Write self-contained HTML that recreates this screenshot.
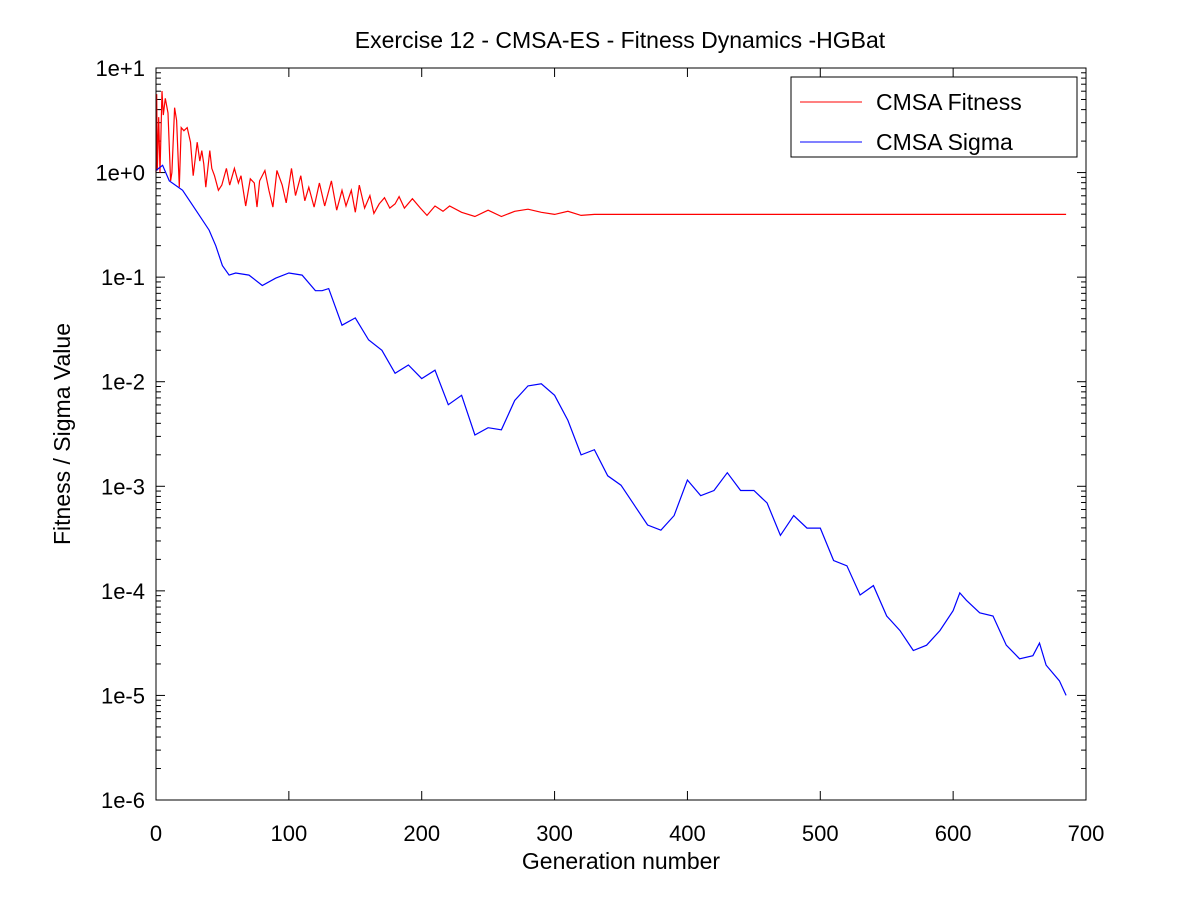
<!DOCTYPE html>
<html><head><meta charset="utf-8"><style>
html,body{margin:0;padding:0;background:#fff;}
svg{display:block;font-family:"Liberation Sans",sans-serif;}
</style></head><body>
<svg id="chart" width="1200" height="900" viewBox="0 0 1200 900" xmlns="http://www.w3.org/2000/svg">
<rect width="1200" height="900" fill="#fff"/>
<text x="620" y="48" font-size="23" text-anchor="middle">Exercise 12 - CMSA-ES - Fitness Dynamics -HGBat</text>
<text x="621" y="869" font-size="23" text-anchor="middle">Generation number</text>
<text transform="translate(70,434) rotate(-90)" font-size="23" text-anchor="middle">Fitness / Sigma Value</text>
<g id="axes"></g>
<g id="series"></g>
<rect x="156" y="68" width="930" height="732" fill="none" stroke="#000" stroke-width="1"/>
<g>
<rect x="791" y="77" width="286" height="80" fill="#fff" stroke="#000" stroke-width="1"/>
<line x1="800" y1="102" x2="862" y2="102" stroke="#f00" stroke-width="1"/>
<text x="876" y="110" font-size="23">CMSA Fitness</text>
<line x1="800" y1="142" x2="862" y2="142" stroke="#00f" stroke-width="1"/>
<text x="876" y="150" font-size="23">CMSA Sigma</text>
</g>
</svg>
<script>
const xTicks=[0,100,200,300,400,500,600,700];
const yTickExps=[1,0,-1,-2,-3,-4,-5,-6];
const yTickLabels=["1e+1","1e+0","1e-1","1e-2","1e-3","1e-4","1e-5","1e-6"];
const sigmaGen=[0,5,10,20,30,40,45,50,55,60,70,80,90,100,110,120,125,130,140,150,160,170,180,190,200,210,220,230,240,250,260,270,280,290,300,310,320,330,340,350,360,370,380,390,400,410,420,430,440,450,460,470,480,490,500,510,520,530,540,550,560,570,580,590,600,605,610,620,630,640,650,660,665,670,680,685];
const sigmaLog10=[0.02,0.07,-0.08,-0.17,-0.36,-0.55,-0.7,-0.89,-0.98,-0.96,-0.98,-1.08,-1.01,-0.96,-0.98,-1.13,-1.13,-1.11,-1.46,-1.39,-1.6,-1.7,-1.92,-1.84,-1.97,-1.89,-2.22,-2.13,-2.51,-2.44,-2.46,-2.18,-2.04,-2.02,-2.13,-2.37,-2.7,-2.65,-2.9,-2.99,-3.18,-3.37,-3.42,-3.28,-2.94,-3.09,-3.04,-2.87,-3.04,-3.04,-3.16,-3.47,-3.28,-3.4,-3.4,-3.71,-3.76,-4.04,-3.95,-4.24,-4.38,-4.57,-4.52,-4.38,-4.19,-4.02,-4.09,-4.21,-4.24,-4.52,-4.65,-4.62,-4.5,-4.71,-4.86,-5.0];
const fitGen=[0,0.5,1,2,3,4.5,5.5,7,9,11,12,14,15.5,17.5,19,21,23.5,26,28,31,33,34.5,36,37.5,40.5,42,44,47,49.5,53,55.5,59,62,64,67.5,71,74,76,78,82,85,88,91,95,98,102,105,109,112,115,119,123,127,132,136,140,143,147,150,153,157,161,164,168,172,176,180,183,187,193,199,204,210,216,221,230,240,250,260,270,280,290,300,310,320,330,360,400,450,500,550,600,650,685];
const fitLog10=[0,0.75,0.02,0.53,0,0.78,0.55,0.71,0.57,-0.08,0,0.62,0.5,-0.14,0.43,0.4,0.43,0.29,-0.03,0.29,0.11,0.21,0.08,-0.14,0.21,0.04,-0.03,-0.17,-0.12,0.04,-0.12,0.04,-0.1,-0.03,-0.32,-0.06,-0.1,-0.33,-0.08,0.02,-0.17,-0.33,0.02,-0.12,-0.29,0.04,-0.22,-0.03,-0.27,-0.14,-0.33,-0.1,-0.32,-0.08,-0.36,-0.17,-0.32,-0.17,-0.38,-0.12,-0.34,-0.22,-0.39,-0.3,-0.24,-0.34,-0.3,-0.23,-0.34,-0.25,-0.34,-0.41,-0.32,-0.37,-0.32,-0.38,-0.42,-0.36,-0.42,-0.37,-0.35,-0.38,-0.4,-0.37,-0.41,-0.4,-0.4,-0.4,-0.4,-0.4,-0.4,-0.4,-0.4,-0.4];
const X0=156,X1=1086,Y0=68,Y1=800;
function xs(g){return X0+(g/700)*(X1-X0);}
function ys(l){return Y0+(1-l)/7*(Y1-Y0);}
const NS="http://www.w3.org/2000/svg";
const axes=document.getElementById('axes');
function mk(t,a){const e=document.createElementNS(NS,t);for(const k in a)e.setAttribute(k,a[k]);return e;}
xTicks.forEach(v=>{
 const x=xs(v);
 const b=mk('line',{x1:x,y1:Y1,x2:x,y2:Y1-9,stroke:'#000'});
 
 
 axes.appendChild(b);
 const t=mk('line',{x1:x,y1:Y0,x2:x,y2:Y0+9,stroke:'#000'});
 
 
 axes.appendChild(t);
 const l=mk('text',{x:x,y:841,'font-size':22,'text-anchor':'middle'});
 l.textContent=v;
 
 
 axes.appendChild(l);
});
yTickExps.forEach((e,i)=>{
 const y=ys(e);
 [[X0,9],[X1,-9]].forEach(([x,d])=>{
  const m=mk('line',{x1:x,y1:y,x2:x+d,y2:y,stroke:'#000'});
  
  
  axes.appendChild(m);
  if(e>-6){for(let k=2;k<=9;k++){
   const yy=ys(e-1+Math.log10(k));
   const mn=mk('line',{x1:x,y1:yy,x2:x+d*0.55,y2:yy,stroke:'#000'});
   
   
   axes.appendChild(mn);
  }}
 });
 const l=mk('text',{x:145,y:y+8,'font-size':22,'text-anchor':'end'});
 l.textContent=yTickLabels[i];
 
 
 axes.appendChild(l);
});
const ser=document.getElementById('series');
function line(gs,vs,color,name){
 const d=gs.map((g,i)=>(i?'L':'M')+xs(g).toFixed(1)+','+ys(vs[i]).toFixed(1)).join('');
 const p=mk('path',{d:d,fill:'none',stroke:color,'stroke-width':1.2});
 
 
 ser.appendChild(p);
}
line(fitGen,fitLog10,'#f00','fitness-line');
line(sigmaGen,sigmaLog10,'#00f','sigma-line');
</script>
</body></html>
